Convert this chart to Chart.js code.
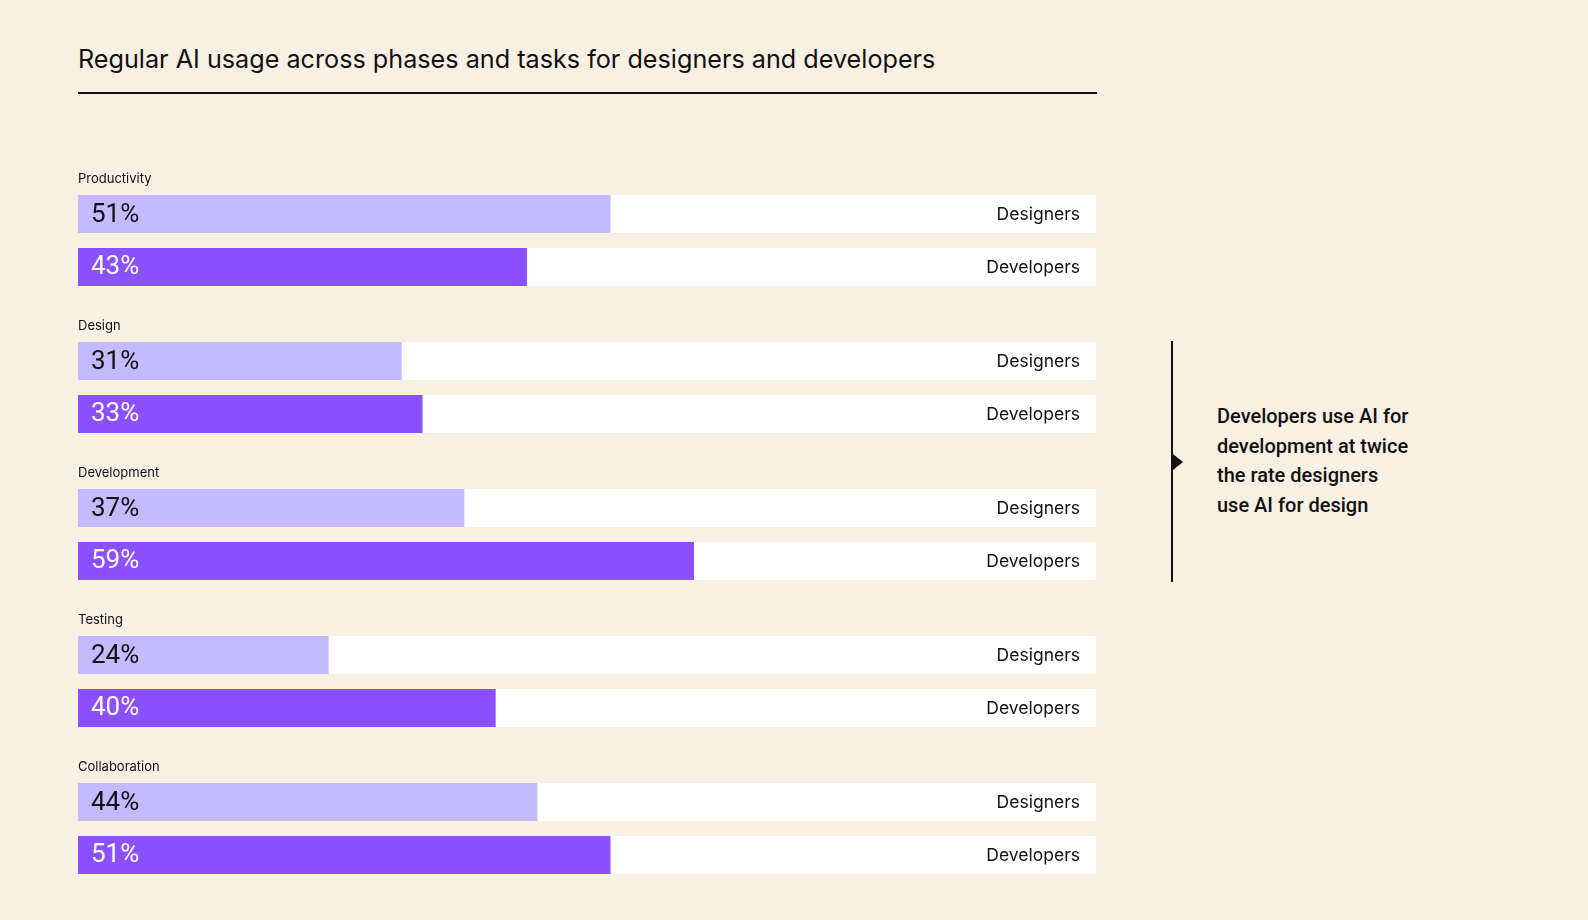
<!DOCTYPE html>
<html>
<head>
<meta charset="utf-8">
<script src="https://cdn.jsdelivr.net/npm/chart.js@4.4.0/dist/chart.umd.min.js"></script>
<style>
    html, body {
        margin: 0;
        padding: 0;
        width: 1588px;
        height: 920px;
        background: #f9f0e4;
        overflow: hidden;
        font-family: Inter, Roboto, "Liberation Sans", sans-serif;
    }
    .title {
        position: absolute;
        left: 78px;
        top: 43px;
        font-size: 25.2px;
        line-height: 32px;
        color: #111;
        white-space: nowrap;
    }
    .rule {
        position: absolute;
        left: 78px;
        top: 92px;
        width: 1019px;
        height: 2px;
        background: #111;
    }
    .chart-wrap {
        position: absolute;
        left: 78px;
        top: 167px;
        width: 1018px;
        height: 735px;
    }
    .note-line {
        position: absolute;
        left: 1171px;
        top: 341px;
        width: 2px;
        height: 241px;
        background: #111;
    }
    .note-arrow {
        position: absolute;
        left: 1173px;
        top: 454px;
        width: 0;
        height: 0;
        border-top: 8px solid transparent;
        border-bottom: 8px solid transparent;
        border-left: 10px solid #111;
    }
    .note {
        position: absolute;
        left: 1217px;
        top: 402px;
        font-family: Roboto, "Liberation Sans", sans-serif;
        font-size: 20px;
        font-weight: 500;
        line-height: 29.5px;
        color: #111;
    }
</style>
</head>
<body>
<div class="title">Regular AI usage across phases and tasks for designers and developers</div>
<div class="rule"></div>
<div class="chart-wrap"><canvas id="usageChart"></canvas></div>
<div class="note-line"></div>
<div class="note-arrow"></div>
<div class="note">Developers use AI for<br>development at twice<br>the rate designers<br>use AI for design</div>

<script>
// Share of respondents using AI regularly, per phase (%)
const phases = ['Productivity', 'Design', 'Development', 'Testing', 'Collaboration'];
const designers = [51, 31, 37, 24, 44];
const developers = [43, 33, 59, 40, 51];
const groupNames = ['Designers', 'Developers'];
const scaleMax = 97.5;

const lavender = '#c4baff';
const purple = '#8b50ff';

// white track behind each bar = rest of the scale
const rest = values => values.map(v => scaleMax - v);

/**
 * Draws the phase headings, percent labels and group names
 */
const labelPlugin = {
    id: 'barLabels',
    afterDatasetsDraw(chart) {
        const { ctx, chartArea } = chart;
        ctx.save();
        ctx.textBaseline = 'middle';

        [0, 2].forEach((dsIndex, g) => {
            const meta = chart.getDatasetMeta(dsIndex);
            const values = chart.data.datasets[dsIndex].data;
            meta.data.forEach((bar, i) => {
                // percent inside the bar
                ctx.font = '26px Roboto, "Liberation Sans", sans-serif';
                ctx.fillStyle = g === 0 ? '#111' : '#fff';
                ctx.textAlign = 'left';
                ctx.fillText(values[i] + '%', chartArea.left + 13, bar.y + 1);

                // group name at the end of the track
                ctx.font = '17.5px Inter, Roboto, sans-serif';
                ctx.fillStyle = '#111';
                ctx.textAlign = 'right';
                ctx.fillText(groupNames[g], chartArea.right - 16, bar.y + 1);

                // phase heading above the first bar
                if (g === 0) {
                    ctx.font = '13px Inter, Roboto, sans-serif';
                    ctx.textAlign = 'left';
                    ctx.fillText(phases[i], chartArea.left, bar.y - bar.height / 2 - 16);
                }
            });
        });
        ctx.restore();
    }
};

new Chart(document.getElementById('usageChart'), {
    type: 'bar',
    data: {
        labels: phases,
        datasets: [
            { label: 'Designers', data: designers, backgroundColor: lavender, stack: 'des' },
            { label: 'Designers rest', data: rest(designers), backgroundColor: '#ffffff', stack: 'des' },
            { label: 'Developers', data: developers, backgroundColor: purple, stack: 'dev' },
            { label: 'Developers rest', data: rest(developers), backgroundColor: '#ffffff', stack: 'dev' }
        ]
    },
    options: {
        indexAxis: 'y',
        responsive: true,
        maintainAspectRatio: false,
        animation: false,
        categoryPercentage: 0.721,
        barPercentage: 0.717,
        borderWidth: 0,
        layout: { padding: 0 },
        plugins: {
            legend: { display: false },
            tooltip: { enabled: false }
        },
        scales: {
            x: { stacked: true, min: 0, max: scaleMax, display: false },
            y: { stacked: true, display: false }
        }
    },
    plugins: [labelPlugin]
});
</script>
</body>
</html>
